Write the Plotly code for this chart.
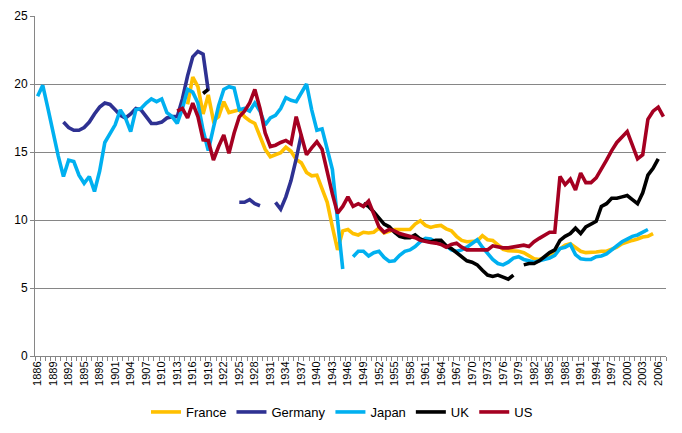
import plotly.graph_objects as go

years = list(range(1886, 2008))
tick_years = list(range(1886, 2007, 3))

japan_start = 1886
japan = [19.1, 19.9, 18.2, 16.4, 14.7, 13.2, 14.4, 14.3, 13.3, 12.7,
         13.2, 12.1, 13.6, 15.7, 16.4, 17.0, 18.1, 17.5, 16.5, 18.1,
         18.2, 18.6, 18.9, 18.7, 18.9, 17.9, 17.6, 17.1, 18.2, 19.6,
         19.4, 18.6, 16.6, 15.1, 16.8, 18.4, 19.6, 19.8, 19.7, 18.1,
         18.2, 18.0, 18.6, 18.0, 17.0, 17.5, 17.7, 18.2, 19.0, 18.8,
         18.7, 19.4, 20.0, 18.1, 16.6, 16.7, 15.1, 13.7, 10.0, 6.4,
         None, 7.3, 7.7, 7.7, 7.35, 7.6, 7.7, 7.25, 6.95, 7.0,
         7.4, 7.7, 7.8, 8.05, 8.4, 8.65, 8.6, 8.4, 8.35, 8.1,
         7.8, 7.7, 7.8, 8.0, 8.3, 8.55, 8.0, 7.5, 7.1, 6.8,
         6.7, 6.9, 7.2, 7.3, 7.1, 7.0, 6.9, 7.0, 7.1, 7.2,
         7.4, 7.9, 8.0, 8.2, 7.45, 7.15, 7.1, 7.1, 7.3, 7.35,
         7.5, 7.8, 8.1, 8.4, 8.6, 8.8, 8.9, 9.1, 9.3]

germany_start = 1891
germany = [17.2, 16.8, 16.6, 16.6, 16.8, 17.2, 17.8, 18.3, 18.6, 18.5,
           18.1, 17.7, 17.5, 17.8, 18.2, 18.1, 17.6, 17.1, 17.1, 17.2,
           17.5, 17.6, 17.6, 18.9, 20.6, 22.0, 22.4, 22.2, 19.5,
           None, None, None, None, None,
           11.3, 11.3, 11.5, 11.2, 11.05,
           None, None,
           11.3, 10.8, 11.7, 12.9, 14.5, 16.3]

france_start = 1915
france = [18.5, 20.5, 19.8, 17.8, 19.2, 17.3, 17.6, 18.7, 17.9, 18.0,
          18.1, 17.6, 17.3, 17.1, 16.1, 15.2, 14.65, 14.8, 14.95, 15.35,
          15.05, 14.45, 14.2, 13.5, 13.25, 13.3, 12.3, 11.3, 9.5, 7.8,
          9.2, 9.3, 9.0, 8.9, 9.1, 9.05, 9.1, 9.4, 9.05, 9.2,
          9.3, 9.3, 9.3, 9.3, 9.7, 9.95, 9.6, 9.45, 9.55, 9.6,
          9.35, 9.2, 8.8, 8.5, 8.4, 8.4, 8.45, 8.85, 8.55, 8.5,
          8.2, 7.85, 7.75, 7.75, 7.7, 7.6, 7.4, 7.15, 7.1, 7.2,
          7.35, 7.6, 7.9, 8.15, 8.25, 7.95, 7.7, 7.6, 7.6, 7.65,
          7.7, 7.7, 7.85, 8.0, 8.25, 8.4, 8.5, 8.6, 8.75, 8.8, 9.0]

uk_start = 1918
uk = [19.3, 19.6] + [None] * 29 + [
      11.2, 11.0, 10.6, 10.1, 9.7, 9.5, 9.1, 8.8, 8.7, 8.7,
      8.9, 8.6, 8.45, 8.4, 8.5, 8.5, 8.1, 7.9, 7.6, 7.3,
      7.0, 6.9, 6.7, 6.3, 5.95, 5.85, 5.95, 5.8, 5.65, 5.95,
      None,
      6.7, 6.8, 6.8, 7.0, 7.3, 7.6, 7.8, 8.5, 8.8, 9.0,
      9.4, 9.0, 9.5, 9.7, 9.9, 11.0, 11.2, 11.6, 11.6, 11.7,
      11.8, 11.5, 11.2, 12.0, 13.3, 13.8, 14.5]

us_start = 1913
us = [18.0, 18.2, 17.5, 18.6, 17.6, 15.9, 15.85, 14.4, 15.4, 16.25,
      14.9, 16.4, 17.6, 18.0, 18.6, 19.6, 18.2, 16.4, 15.4, 15.5,
      15.7, 15.85, 15.6, 17.6, 16.2, 14.8, 15.3, 15.75, 15.2, 13.5,
      11.9, 10.5, 11.0, 11.7, 11.0, 11.2, 11.0, 11.4, 10.5, 9.5,
      9.1, 9.3, 9.2, 9.0, 8.9, 8.8, 8.7, 8.5, 8.4, 8.35,
      8.3, 8.2, 8.0, 8.2, 8.3, 8.0, 7.8, 7.8, 7.75, 7.75,
      7.8, 8.1, 8.0, 7.95, 7.95, 8.0, 8.1, 8.15, 8.05, 8.4,
      8.65, 8.9, 9.1, 9.1, 13.2, 12.6, 13.0, 12.2, 13.45, 12.75,
      12.75, 13.1, 13.7, 14.4, 15.1, 15.7, 16.1, 16.5, 15.5, 14.5,
      14.8, 17.4, 18.0, 18.3, 17.6]

series_names = ["France", "Germany", "Japan", "UK", "US"]
series_colors = ["#FFC000", "#2E3192", "#00B0F0", "#000000", "#A50021"]


def pad(start, vals):
    out = [None] * len(years)
    for i, v in enumerate(vals):
        out[start - years[0] + i] = v
    return out


data = {
    "France": pad(france_start, france),
    "Germany": pad(germany_start, germany),
    "Japan": pad(japan_start, japan),
    "UK": pad(uk_start, uk),
    "US": pad(us_start, us),
}

font_family = "Liberation Sans Narrow, Arial Narrow, Liberation Sans, sans-serif"

fig = go.Figure()
for name, color in zip(series_names, series_colors):
    fig.add_trace(go.Scatter(
        x=years, y=data[name], name=name, mode="lines",
        line=dict(color=color, width=3.6),
        connectgaps=False,
    ))

# the page body adds an 8px margin, so the figure is sized to the rest
W, H = 674, 425
grid = "#868686"
fig.update_layout(
    width=W, height=H,
    margin=dict(l=27, r=16, t=8, b=77, autoexpand=False),
    paper_bgcolor="white", plot_bgcolor="white",
    font=dict(family=font_family, size=12, color="black"),
    showlegend=True,
    legend=dict(orientation="h", xref="container", yref="container",
                x=(334 / W), xanchor="center", y=1 - 404 / H,
                yanchor="middle", font=dict(size=13), itemwidth=30,
                tracegroupgap=0),
    xaxis=dict(
        range=[1885.5, 2007.5], tickmode="array", tickvals=tick_years,
        ticktext=[str(y) for y in tick_years], tickangle=-90,
        ticks="", showgrid=False, zeroline=False, automargin=False,
        showline=True, linecolor=grid, linewidth=1,
        tickfont=dict(size=11, family=font_family),
        minor=dict(ticks="outside", tick0=1885.5, dtick=1, ticklen=4,
                   tickcolor=grid, tickwidth=1, showgrid=False),
    ),
    yaxis=dict(
        range=[0, 25], tickmode="array", tickvals=[0, 5, 10, 15, 20, 25],
        showgrid=True, gridcolor=grid, gridwidth=1, zeroline=False,
        showline=True, linecolor=grid, linewidth=1, automargin=False,
        ticks="outside", ticklen=4, tickcolor=grid,
        tickfont=dict(size=12, family=font_family),
    ),
)

fig.write_html("out.html")
